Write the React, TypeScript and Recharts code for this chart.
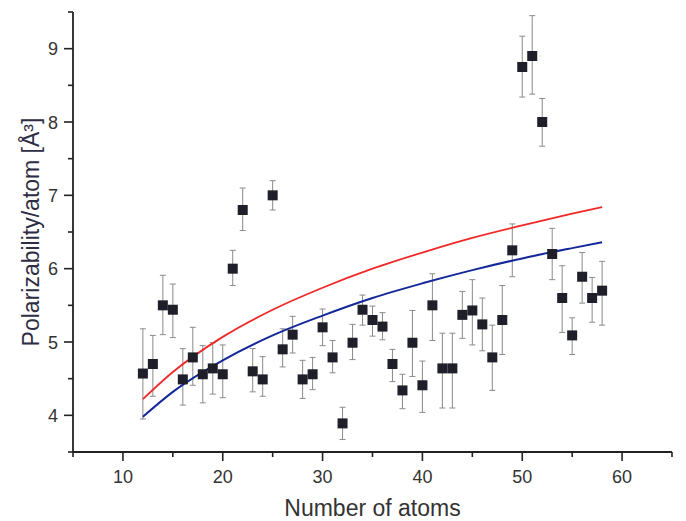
import { ComposedChart, Scatter, Line, XAxis, YAxis, ErrorBar, Label } from 'recharts'

const atoms = [12, 13, 14, 15, 16, 17, 18, 19, 20, 21, 22, 23, 24, 25, 26, 27, 28, 29, 30, 31, 32, 33, 34, 35, 36, 37, 38, 39, 40, 41, 42, 43, 44, 45, 46, 47, 48, 49, 50, 51, 52, 53, 54, 55, 56, 57, 58]
const polar = [4.57, 4.7, 5.5, 5.44, 4.49, 4.79, 4.56, 4.64, 4.56, 6.0, 6.8, 4.6, 4.49, 7.0, 4.9, 5.1, 4.49, 4.56, 5.2, 4.79, 3.89, 4.99, 5.44, 5.3, 5.21, 4.7, 4.34, 4.99, 4.41, 5.5, 4.64, 4.64, 5.37, 5.43, 5.24, 4.79, 5.3, 6.25, 8.75, 8.9, 8.0, 6.2, 5.6, 5.09, 5.89, 5.6, 5.7]
const upper = [5.18, 5.09, 5.91, 5.79, 4.91, 5.2, 4.95, 4.99, 4.96, 6.25, 7.1, 4.91, 4.8, 7.2, 5.18, 5.35, 4.75, 4.79, 5.45, 5.02, 4.11, 5.24, 5.64, 5.49, 5.4, 4.9, 4.56, 5.43, 4.74, 5.93, 5.12, 5.12, 5.69, 5.85, 5.6, 5.23, 5.77, 6.61, 9.17, 9.45, 8.32, 6.55, 6.04, 5.33, 6.22, 5.88, 6.1]
const lower = [3.95, 4.26, 5.1, 5.06, 4.14, 4.41, 4.17, 4.29, 4.24, 5.77, 6.52, 4.32, 4.26, 6.8, 4.66, 4.85, 4.23, 4.35, 4.95, 4.58, 3.67, 4.76, 5.23, 5.08, 5.03, 4.46, 4.09, 4.53, 4.04, 5.02, 4.1, 4.1, 5.05, 4.96, 4.88, 4.34, 4.83, 5.89, 8.34, 8.38, 7.67, 5.85, 5.13, 4.83, 5.53, 5.27, 5.23]

const fitX = [12, 15, 20, 25, 30, 35, 40, 45, 50, 55, 58]
const redFit = [4.22, 4.59, 5.07, 5.44, 5.74, 6.0, 6.22, 6.42, 6.59, 6.75, 6.84]
const blueFit = [3.98, 4.32, 4.75, 5.09, 5.36, 5.6, 5.8, 5.98, 6.14, 6.28, 6.36]

const xTicks = [5, 10, 15, 20, 25, 30, 35, 40, 45, 50, 55, 60, 65]
const yTicks = [3.5, 4, 4.5, 5, 5.5, 6, 6.5, 7, 7.5, 8, 8.5, 9, 9.5]

const points = atoms.map((x, i) => ({ x, y: polar[i], err: [polar[i] - lower[i], upper[i] - polar[i]] }))
const red = fitX.map((x, i) => ({ x, y: redFit[i] }))
const blue = fitX.map((x, i) => ({ x, y: blueFit[i] }))

const FONT = '"Liberation Sans", Arial, sans-serif'

function XTick(props: any) {
  const { x, y, payload } = props
  const major = payload.value % 10 === 0
  return (
    <g>
      <line x1={x} x2={x} y1={y} y2={y + (major ? 9 : 5)} stroke="#222" strokeWidth={1.6} />
      {major && (
        <text x={x} y={y + 31} textAnchor="middle" fontSize={18} fill="#333" fontFamily={FONT}>
          {payload.value}
        </text>
      )}
    </g>
  )
}

function YTick(props: any) {
  const { x, y, payload } = props
  const major = Number.isInteger(payload.value)
  return (
    <g>
      <line x1={x} x2={x - (major ? 9 : 5)} y1={y} y2={y} stroke="#222" strokeWidth={1.6} />
      {major && (
        <text x={x - 15} y={y + 6.5} textAnchor="end" fontSize={18} fill="#333" fontFamily={FONT}>
          {payload.value}
        </text>
      )}
    </g>
  )
}

function YTitle(props: any) {
  const vb = props.viewBox
  const cx = 31
  const cy = vb.y + vb.height / 2
  return (
    <text x={cx} y={cy} transform={`rotate(-90 ${cx} ${cy})`} textAnchor="middle" dominantBaseline="central" fontSize={23} fill="#2d2d44" fontFamily={FONT}>
      Polarizability/atom [Å³]
    </text>
  )
}

function XTitle(props: any) {
  const vb = props.viewBox
  return (
    <text x={vb.x + vb.width / 2} y={vb.y + 64} textAnchor="middle" fontSize={23} fill="#333" fontFamily={FONT}>
      Number of atoms
    </text>
  )
}

function Square(props: any) {
  const { cx, cy } = props
  return <rect x={cx - 5} y={cy - 5} width={10} height={10} fill="#1f1f29" />
}

export default function App() {
  return (
    <div style={{ position: 'absolute', left: 0, top: 0, width: 686, height: 521, background: '#fff' }}>
      <ComposedChart width={686} height={521} margin={{ top: 12, right: 14, bottom: 39, left: 0 }}>
        <XAxis
          type="number"
          dataKey="x"
          domain={[5, 65]}
          ticks={xTicks}
          interval={0}
          height={30}
          tickSize={0}
          tickMargin={0}
          tickLine={false}
          tick={<XTick />}
          axisLine={{ stroke: '#222', strokeWidth: 1.8 }}
          allowDataOverflow
        >
          <Label content={<XTitle />} />
        </XAxis>
        <YAxis
          type="number"
          dataKey="y"
          domain={[3.5, 9.5]}
          ticks={yTicks}
          interval={0}
          width={73}
          tickSize={0}
          tickMargin={0}
          tickLine={false}
          tick={<YTick />}
          axisLine={{ stroke: '#222', strokeWidth: 1.8 }}
          allowDataOverflow
        >
          <Label content={<YTitle />} />
        </YAxis>
        <Scatter data={points} dataKey="y" shape={<Square />} isAnimationActive={false}>
          <ErrorBar dataKey="err" direction="y" width={3} stroke="#8a8a8a" strokeWidth={1} />
        </Scatter>
        <Line data={red} dataKey="y" type="monotone" stroke="#f02828" strokeWidth={1.8} dot={false} isAnimationActive={false} />
        <Line data={blue} dataKey="y" type="monotone" stroke="#14289a" strokeWidth={2} dot={false} isAnimationActive={false} />
      </ComposedChart>
    </div>
  )
}
